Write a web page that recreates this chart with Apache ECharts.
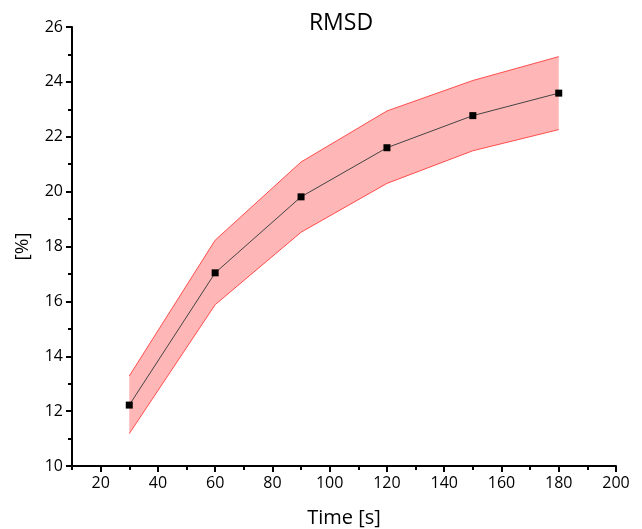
<!DOCTYPE html>
<html><head><meta charset="utf-8">
<script src="https://cdn.jsdelivr.net/npm/echarts@6/dist/echarts.min.js"></script>
<style>html,body{margin:0;padding:0;background:#fff}#c{width:642px;height:529px}</style>
</head><body><div id="c"></div>
<script>
var times = [30, 60, 90, 120, 150, 180];
var meanVals = [12.22, 17.04, 19.81, 21.60, 22.77, 23.59];
var upperVals = [13.28, 18.23, 21.08, 22.94, 24.05, 24.92];
var lowerVals = [11.18, 15.88, 18.52, 20.30, 21.49, 22.26];
var xMajorTicks = [20, 40, 60, 80, 100, 120, 140, 160, 180, 200];
var xMinorTicks = [10, 30, 50, 70, 90, 110, 130, 150, 170, 190];

var FONT = '"Open Sans", "Liberation Sans", sans-serif';
function pairs(xs, ys){ return xs.map(function(x,i){ return [x, ys[i]]; }); }

var chart = echarts.init(document.getElementById('c'), null, {renderer:'canvas'});
chart.setOption({
  animation: false,
  backgroundColor: '#fff',
  title: { text: 'RMSD', left: 336, top: 7, textAlign: 'center',
    textStyle: { fontFamily: FONT, fontSize: 23, fontWeight: 'normal', color: '#000' } },
  grid: { left: 72, right: 26, top: 27, bottom: 63, containLabel: false, outerBoundsMode: 'none' },
  xAxis: [{
    type: 'value', min: 10, max: 200,
    name: 'Time [s]', nameLocation: 'middle', nameGap: 42,
    nameTextStyle: { fontFamily: FONT, fontSize: 20, color: '#000' },
    axisLine: { show: true, onZero: false, lineStyle: { color: '#000', width: 2 } },
    axisTick: { show: true, customValues: xMajorTicks, length: 6, lineStyle: { color: '#000', width: 2 } },
    axisLabel: { customValues: xMajorTicks, fontFamily: FONT, fontSize: 16, color: '#000', margin: 9 },
    splitLine: { show: false }
  }, {
    type: 'value', min: 10, max: 200, position: 'bottom',
    axisLine: { show: false },
    axisTick: { show: true, customValues: xMinorTicks, length: 4, lineStyle: { color: '#000', width: 2 } },
    axisLabel: { show: false },
    splitLine: { show: false }
  }],
  yAxis: {
    type: 'value', min: 10, max: 26, interval: 2,
    name: '[%]', nameLocation: 'middle', nameGap: 40, nameRotate: 90,
    nameTextStyle: { fontFamily: FONT, fontSize: 19, color: '#000' },
    axisLine: { show: true, onZero: false, lineStyle: { color: '#000', width: 2 } },
    axisTick: { show: true, length: 6, lineStyle: { color: '#000', width: 2 } },
    minorTick: { show: true, splitNumber: 2, length: 4, lineStyle: { color: '#000', width: 2 } },
    axisLabel: { fontFamily: FONT, fontSize: 16, color: '#000', margin: 9 },
    splitLine: { show: false }
  },
  series: [
    { type: 'custom', silent: true, z: 1,
      data: times.map(function(t, i){ return [t, lowerVals[i], upperVals[i]]; }),
      encode: { x: 0, y: [1, 2] },
      renderItem: function(params, api){
        if (params.dataIndex !== 0) return null;
        var top = [], bot = [];
        for (var i = 0; i < times.length; i++) {
          top.push(api.coord([times[i], upperVals[i]]));
          bot.unshift(api.coord([times[i], lowerVals[i]]));
        }
        return { type: 'polygon', shape: { points: top.concat(bot) },
          style: { fill: '#ffb6b6', stroke: null } };
      }
    },
    { type: 'line', data: pairs(times, upperVals), symbol: 'none',
      lineStyle: { color: '#ff4d4d', width: 1 }, silent: true, z: 3 },
    { type: 'line', data: pairs(times, lowerVals), symbol: 'none',
      lineStyle: { color: '#ff4d4d', width: 1 }, silent: true, z: 3 },
    { type: 'line', data: pairs(times, meanVals), symbol: 'rect', symbolSize: 7,
      itemStyle: { color: '#000' }, lineStyle: { color: '#444', width: 1 }, z: 4 }
  ]
});
</script></body></html>
